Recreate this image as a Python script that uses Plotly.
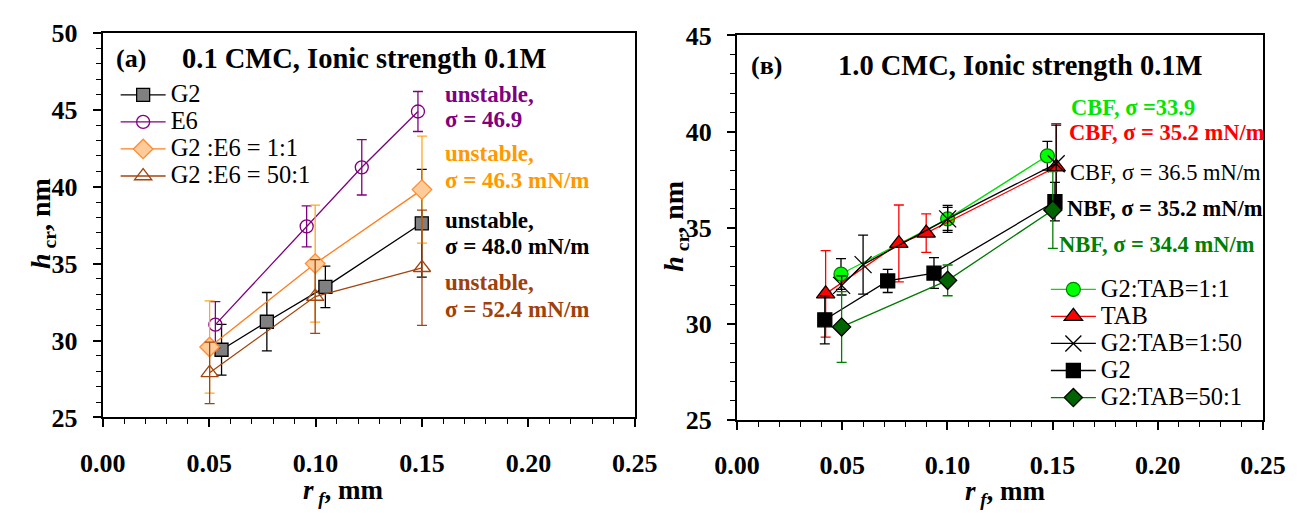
import plotly.graph_objects as go

FONT = "Liberation Serif"

# ---------------- Panel (a) data ----------------
a_g2_x = [0.0558, 0.0771, 0.1046, 0.1499]
a_g2_y = [29.40, 31.22, 33.49, 37.62]
a_g2_e = [1.65, 1.90, 1.35, 3.50]

a_e6_x = [0.0529, 0.0958, 0.1217, 0.1481]
a_e6_y = [31.03, 37.42, 41.26, 44.89]
a_e6_e = [1.50, 1.33, 1.80, 1.30]

a_11_x = [0.0502, 0.0998, 0.1500]
a_11_y = [29.58, 35.00, 39.81]
a_11_e = [3.00, 3.80, 3.48]

a_501_x = [0.0502, 0.0998, 0.1500]
a_501_y = [27.90, 32.86, 34.73]
a_501_e = [2.00, 2.40, 3.75]

# ---------------- Panel (в) data ----------------
b_11_x = [0.0494, 0.1001, 0.1475]
b_11_y = [32.59, 35.46, 38.74]
b_11_e = [0.80, 0.60, 0.75]

b_tab_x = [0.0421, 0.0769, 0.0899, 0.1517]
b_tab_y = [31.56, 34.18, 34.72, 38.16]
b_tab_e = [2.25, 2.00, 1.00, 2.25]

b_150_x = [0.0497, 0.0599, 0.1001, 0.1517]
b_150_y = [32.00, 33.08, 35.46, 38.33]
b_150_e = [0.50, 1.53, 0.70, 2.00]

b_g2_x = [0.0417, 0.0716, 0.0936, 0.1511]
b_g2_y = [30.21, 32.23, 32.64, 36.36]
b_g2_e = [1.25, 0.60, 0.80, 1.00]

b_501_x = [0.0497, 0.1001, 0.1501]
b_501_y = [29.84, 32.26, 35.92]
b_501_e = [1.84, 0.80, 2.00]

x_ticks = [0.00, 0.05, 0.10, 0.15, 0.20, 0.25]
x_tick_labels = ["0.00", "0.05", "0.10", "0.15", "0.20", "0.25"]

fig = go.Figure()

LEG_TXT = '<span style="font-size:24.5px">{}</span>'


def add(x, y, e, name, xa, ya, legend, line_c, mk_sym, mk_size, mk_fill, mk_line, err_c):
    fig.add_trace(go.Scatter(
        x=x, y=y, name=LEG_TXT.format(name), mode="lines+markers", xaxis=xa, yaxis=ya,
        legend=legend,
        line=dict(color=line_c, width=1.3),
        marker=dict(symbol=mk_sym, size=mk_size, color=mk_fill,
                    line=dict(color=mk_line, width=1.3)),
        error_y=dict(type="data", array=e, visible=True, color=err_c,
                     thickness=1.3, width=5),
    ))


# Panel (a)
add(a_g2_x, a_g2_y, a_g2_e, "G2", "x", "y", "legend", "#000000", "square", 13,
    "#808080", "#000000", "#000000")
add(a_e6_x, a_e6_y, a_e6_e, "E6", "x", "y", "legend", "#800080", "circle-open", 13,
    "#800080", "#800080", "#800080")
add(a_11_x, a_11_y, a_11_e, "G2 :E6 = 1:1", "x", "y", "legend", "#FF7F1E", "diamond", 15,
    "#FFCC99", "#FF8C33", "#FFA726")
add(a_501_x, a_501_y, a_501_e, "G2 :E6 = 50:1", "x", "y", "legend", "#A3450F", "triangle-up-open", 15,
    "#A3450F", "#A3450F", "#A3450F")

# Panel (в)
add(b_11_x, b_11_y, b_11_e, "G2:TAB=1:1", "x2", "y2", "legend2", "#00E000", "circle", 14,
    "#00FF00", "#008000", "#000000")
add(b_tab_x, b_tab_y, b_tab_e, "TAB", "x2", "y2", "legend2", "#FF0000", "triangle-up", 16,
    "#FF0000", "#000000", "#FF0000")
add(b_150_x, b_150_y, b_150_e, "G2:TAB=1:50", "x2", "y2", "legend2", "#000000", "x-thin-open", 17,
    "#000000", "#000000", "#000000")
add(b_g2_x, b_g2_y, b_g2_e, "G2", "x2", "y2", "legend2", "#000000", "square", 14,
    "#000000", "#000000", "#000000")
add(b_501_x, b_501_y, b_501_e, "G2:TAB=50:1", "x2", "y2", "legend2", "#007A00", "diamond", 14,
    "#006400", "#000000", "#008000")

W, H = 1313, 519


def xaxis(domain):
    return dict(domain=domain, range=[0, 0.25], tickvals=x_ticks, ticktext=x_tick_labels,
                ticks="outside", ticklen=8, tickwidth=1.5, tickcolor="black",
                showline=True, linecolor="black", linewidth=2, mirror=True,
                showgrid=False, zeroline=False, ticklabelstandoff=13,
                tickfont=dict(family=FONT, size=26, color="black", weight="bold"),
                minor=dict(dtick=0.01, ticks="outside", ticklen=5, tickwidth=1.2, tickcolor="black"))


def yaxis(domain, rng, dt, anchor):
    return dict(domain=domain, range=rng, dtick=dt, anchor=anchor,
                ticks="outside", ticklen=8, tickwidth=1.5, tickcolor="black",
                showline=True, linecolor="black", linewidth=2, mirror=True,
                showgrid=False, zeroline=False, ticklabelstandoff=10,
                tickfont=dict(family=FONT, size=26, color="black", weight="bold"),
                minor=dict(dtick=1, ticks="outside", ticklen=5, tickwidth=1.2, tickcolor="black"))


fig.update_layout(
    width=W, height=H, margin=dict(l=0, r=0, t=0, b=0),
    paper_bgcolor="white", plot_bgcolor="white",
    font=dict(family=FONT, color="black"),
    xaxis=dict(xaxis([82.7 / W, 634 / W]), anchor="y"),
    yaxis=yaxis([1 - 427.3 / H, 1 - 20 / H], [25, 50], 5, "x"),
    xaxis2=dict(xaxis([740 / W, 1285 / W]), anchor="y2"),
    yaxis2=yaxis([1 - 430 / H, 1 - 22.7 / H], [25, 45], 5, "x2"),
    legend=dict(x=96 / W, y=1 - 66 / H, xanchor="left", yanchor="top",
                bgcolor="rgba(0,0,0,0)", itemwidth=45, tracegroupgap=0,
                font=dict(family=FONT, size=18.5, color="black")),
    legend2=dict(x=1060 / W, y=1 - 272 / H, xanchor="left", yanchor="top",
                 bgcolor="rgba(0,0,0,0)", itemwidth=45, tracegroupgap=0,
                 font=dict(family=FONT, size=18.5, color="black")),
    showlegend=True,
)

ann = []


def txt(x, y, s, color, size, xref="paper", yref="paper", xanchor="left", angle=0):
    ann.append(dict(x=x, y=y, xref=xref, yref=yref, text=s, showarrow=False,
                    xanchor=xanchor, yanchor="middle", textangle=angle,
                    font=dict(family=FONT, size=size, color=color)))


# Titles
txt(94 / W, 1 - 47 / H, "<b>(a)</b>", "black", 26)
txt(163 / W, 1 - 47 / H, "<b>0.1 CMC, Ionic strength 0.1M</b>", "black", 28.5)
txt(752 / W, 1 - 55 / H, "<b>(в)</b>", "black", 26)
txt(843 / W, 1 - 55 / H, "<b>1.0 CMC, Ionic strength 0.1M</b>", "black", 28.5)

# Panel (a) side notes
PURPLE, ORANGE, BROWN = "#800080", "#FF9900", "#A0400A"
NA = 23
txt(0.1598, 46.01, "<b>unstable,</b>", PURPLE, NA, "x", "y")
txt(0.1598, 44.37, "<b>σ = 46.9</b>", PURPLE, NA, "x", "y")
txt(0.1598, 42.14, "<b>unstable,</b>", ORANGE, NA, "x", "y")
txt(0.1598, 40.42, "<b>σ = 46.3 mN/m</b>", ORANGE, NA, "x", "y")
txt(0.1598, 37.78, "<b>unstable,</b>", "black", NA, "x", "y")
txt(0.1598, 36.08, "<b>σ = 48.0 mN/m</b>", "black", NA, "x", "y")
txt(0.1598, 33.74, "<b>unstable,</b>", BROWN, NA, "x", "y")
txt(0.1598, 32.00, "<b>σ = 52.4 mN/m</b>", BROWN, NA, "x", "y")

# Panel (в) side notes
NB = 22.5
txt(0.1578, 41.23, "<b>CBF, σ =33.9</b>", "#00E600", NB, "x2", "y2")
txt(0.1567, 39.93, "<b>CBF, σ = 35.2 mN/m</b>", "#FF0000", NB, "x2", "y2")
txt(0.1575, 37.89, "CBF, σ = 36.5 mN/m", "black", NB, "x2", "y2")
txt(0.1560, 36.00, "<b>NBF, σ = 35.2 mN/m</b>", "black", NB, "x2", "y2")
txt(0.1522, 34.12, "<b>NBF, σ = 34.4 mN/m</b>", "#008000", NB, "x2", "y2")

# Axis titles
ytitle = "<b><i>h</i></b><sub><b> cr</b></sub><b>, nm</b>"
xtitle = "<b><i>r</i></b><sub><b><i> f</i></b></sub><b>, mm</b>"
txt(20 / W, 1 - 222 / H, ytitle, "black", 28, xanchor="center", angle=-90)
txt(676 / W, 1 - 225 / H, ytitle, "black", 28, xanchor="center", angle=-90)
txt(332 / W, 1 - 506 / H, xtitle, "black", 27, xanchor="center")
txt(1018 / W, 1 - 507 / H, xtitle, "black", 27, xanchor="center")

fig.update_layout(annotations=ann)

fig.write_html("out.html")
